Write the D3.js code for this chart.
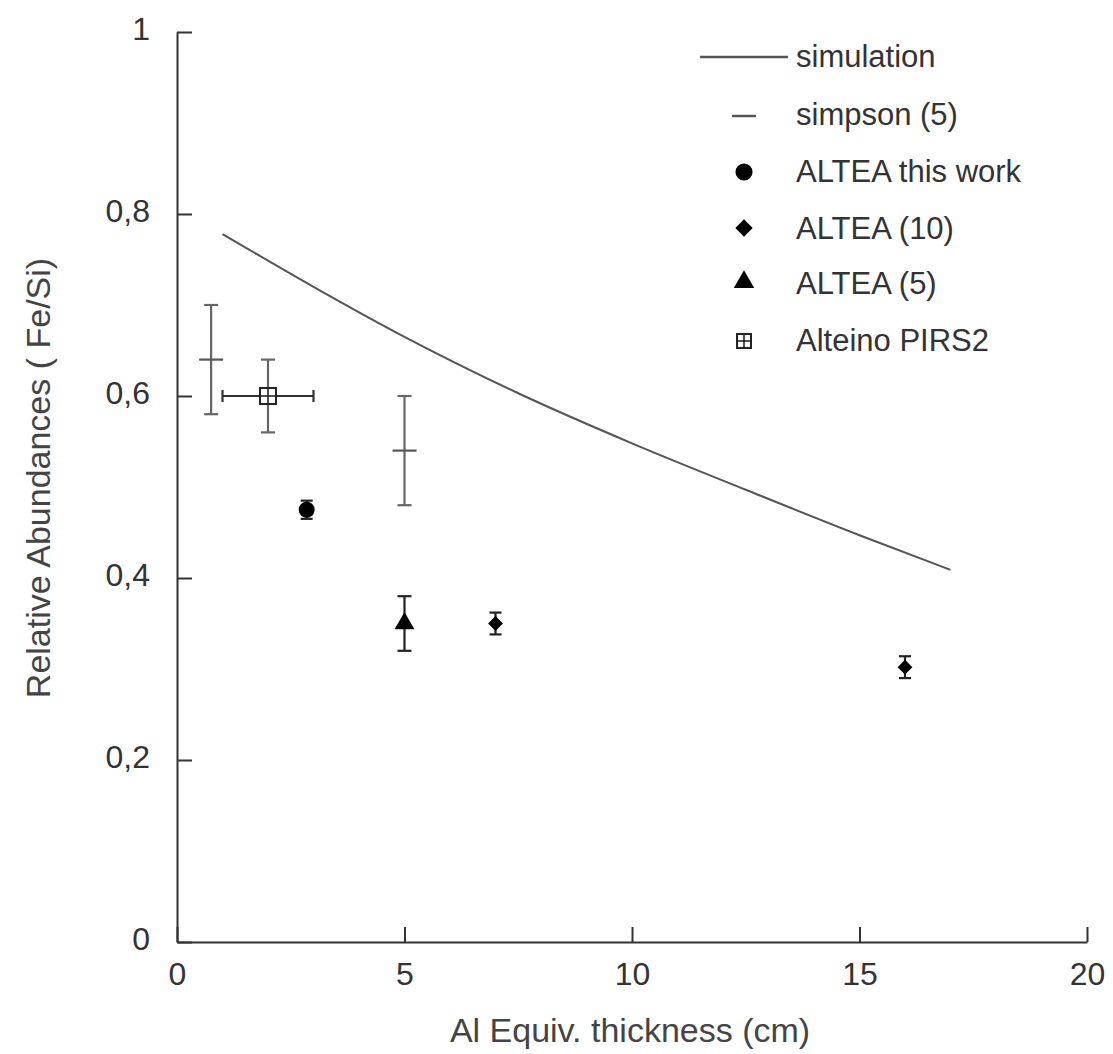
<!DOCTYPE html>
<html>
<head>
<meta charset="utf-8">
<script src="https://cdn.jsdelivr.net/npm/d3@7"></script>
<style>
  body { margin: 0; background: #fff; }
  svg { font-family: "Liberation Sans", Arial, sans-serif; }
</style>
</head>
<body>
<svg id="chart" width="1113" height="1054"></svg>
<script>
// simulation curve (Al thickness cm, Fe/Si)
const simX = [1, 3, 5, 7.5, 10, 12.5, 15, 17]
const simY = [0.778, 0.72, 0.665, 0.603, 0.548, 0.497, 0.447, 0.409]

// simpson (5)
const simpsonX = [0.75, 5]
const simpsonY = [0.64, 0.54]
const simpsonErr = [0.06, 0.06]

// ALTEA this work
const thisX = [2.85]
const thisY = [0.475]
const thisErr = [0.01]

// ALTEA (10)
const a10X = [7, 16]
const a10Y = [0.35, 0.302]
const a10Err = [0.012, 0.012]

// ALTEA (5)
const a5X = [5]
const a5Y = [0.35]
const a5Err = [0.03]

// Alteino PIRS2
const pirsX = [2]
const pirsY = [0.6]
const pirsErrY = [0.04]
const pirsErrX = [1]

const xTicks = [0, 5, 10, 15, 20]
const yTicks = [0, 0.2, 0.4, 0.6, 0.8, 1]
const legendLabels = ['simulation', 'simpson (5)', 'ALTEA this work', 'ALTEA (10)', 'ALTEA (5)', 'Alteino PIRS2']

const margin = { top: 32, right: 26, bottom: 112, left: 177 }
const svg = d3.select('#chart')
const width = 1113 - margin.left - margin.right
const height = 1054 - margin.top - margin.bottom

const chart = svg.append('g')
  .attr('transform', `translate(${margin.left}, ${margin.top})`)

const x = d3.scaleLinear().domain([0, 20]).range([0, width])
const y = d3.scaleLinear().domain([0, 1]).range([height, 0])

const fmt = d => d === 0 || d === 1 ? String(d) : String(d).replace('.', ',')

// axes
const xAxis = d3.axisBottom(x).tickValues(xTicks).tickSizeInner(-15).tickSizeOuter(0).tickPadding(20).tickFormat(fmt)
const yAxis = d3.axisLeft(y).tickValues(yTicks).tickSizeInner(-15).tickSizeOuter(0).tickPadding(27).tickFormat(fmt)

const gx = chart.append('g').attr('transform', `translate(0, ${height})`).call(xAxis)
const gy = chart.append('g').call(yAxis)
;[gx, gy].forEach(g => {
  g.select('.domain').attr('stroke', '#333').attr('stroke-width', 2)
  g.selectAll('.tick line').attr('stroke', '#333').attr('stroke-width', 2)
  g.selectAll('.tick text').attr('fill', '#333').style('font-size', '32px')
})
gy.selectAll('.tick text').attr('dy', '0.22em')

// axis labels
svg.append('text')
  .attr('x', 630).attr('y', 1042)
  .attr('text-anchor', 'middle')
  .attr('fill', '#444').style('font-size', '34px')
  .text('Al Equiv. thickness (cm)')
svg.append('text')
  .attr('transform', 'translate(50, 478) rotate(-90)')
  .attr('text-anchor', 'middle')
  .attr('fill', '#444').style('font-size', '34px')
  .text('Relative Abundances ( Fe/Si)')

// simulation line
const line = d3.line().x(d => x(d[0])).y(d => y(d[1])).curve(d3.curveMonotoneX)
chart.append('path')
  .datum(d3.zip(simX, simY))
  .attr('fill', 'none').attr('stroke', '#555').attr('stroke-width', 2)
  .attr('d', line)

// error bars
function errY(xs, ys, es, cap, color) {
  const g = chart.append('g').attr('stroke', color).attr('stroke-width', 2.2)
  xs.forEach((v, i) => {
    const cx = x(v), lo = y(ys[i] - es[i]), hi = y(ys[i] + es[i])
    g.append('line').attr('x1', cx).attr('x2', cx).attr('y1', lo).attr('y2', hi)
    g.append('line').attr('x1', cx - cap).attr('x2', cx + cap).attr('y1', lo).attr('y2', lo)
    g.append('line').attr('x1', cx - cap).attr('x2', cx + cap).attr('y1', hi).attr('y2', hi)
  })
}
function errX(xs, ys, es, cap, color) {
  const g = chart.append('g').attr('stroke', color).attr('stroke-width', 2.2)
  xs.forEach((v, i) => {
    const cy = y(ys[i]), lo = x(v - es[i]), hi = x(v + es[i])
    g.append('line').attr('x1', lo).attr('x2', hi).attr('y1', cy).attr('y2', cy)
    g.append('line').attr('x1', lo).attr('x2', lo).attr('y1', cy - cap).attr('y2', cy + cap)
    g.append('line').attr('x1', hi).attr('x2', hi).attr('y1', cy - cap).attr('y2', cy + cap)
  })
}

// simpson
errY(simpsonX, simpsonY, simpsonErr, 7, '#666')
chart.append('g').selectAll('line').data(simpsonX).join('line')
  .attr('x1', d => x(d) - 12).attr('x2', d => x(d) + 12)
  .attr('y1', (d, i) => y(simpsonY[i])).attr('y2', (d, i) => y(simpsonY[i]))
  .attr('stroke', '#555').attr('stroke-width', 2.2)

// Alteino PIRS2
errY(pirsX, pirsY, pirsErrY, 7, '#666')
errX(pirsX, pirsY, pirsErrX, 6, '#333')

// markers
const sym = (type, size) => d3.symbol().type(type).size(size)()
const markers = [
  [thisX, thisY, thisErr, d3.symbolCircle, 200, 0],
  [a10X, a10Y, a10Err, d3.symbolSquare, 110, 45],
  [a5X, a5Y, a5Err, d3.symbolTriangle, 170, 0]
]
markers.forEach(([xs, ys, es, type, size, rot]) => {
  errY(xs, ys, es, es[0] > 0.02 ? 7 : 6, '#222')
  chart.append('g').selectAll('path').data(xs).join('path')
    .attr('transform', (d, i) => `translate(${x(d)}, ${y(ys[i])}) rotate(${rot})`)
    .attr('d', sym(type, size))
    .attr('fill', '#000')
})

function pirsMarker(g, cx, cy, s) {
  g.append('rect').attr('x', cx - s).attr('y', cy - s).attr('width', 2 * s).attr('height', 2 * s)
    .attr('fill', '#fff').attr('stroke', '#222').attr('stroke-width', 2)
  g.append('line').attr('x1', cx - s).attr('x2', cx + s).attr('y1', cy).attr('y2', cy)
    .attr('stroke', '#222').attr('stroke-width', 1.6)
  g.append('line').attr('x1', cx).attr('x2', cx).attr('y1', cy - s).attr('y2', cy + s)
    .attr('stroke', '#222').attr('stroke-width', 1.6)
}
pirsX.forEach((v, i) => pirsMarker(chart, x(v), y(pirsY[i]), 8))

// legend
const legend = svg.append('g')
const rowY = [56, 114, 171, 228, 283, 340]
legend.selectAll('text').data(legendLabels).join('text')
  .attr('x', 796).attr('y', (d, i) => rowY[i]).attr('dy', '0.35em')
  .attr('fill', '#333').style('font-size', '31px')
  .text(d => d)
legend.append('line').attr('x1', 700).attr('x2', 788).attr('y1', 57).attr('y2', 57)
  .attr('stroke', '#555').attr('stroke-width', 2.5)
legend.append('line').attr('x1', 732).attr('x2', 756).attr('y1', 116).attr('y2', 116)
  .attr('stroke', '#555').attr('stroke-width', 2.5)
legend.append('path').attr('transform', 'translate(744, 172)').attr('d', sym(d3.symbolCircle, 230))
legend.append('path').attr('transform', 'translate(744, 228) rotate(45)').attr('d', sym(d3.symbolSquare, 150))
legend.append('path').attr('transform', 'translate(744, 282)').attr('d', sym(d3.symbolTriangle, 180))
pirsMarker(legend, 744, 341, 7)
</script>
</body>
</html>
